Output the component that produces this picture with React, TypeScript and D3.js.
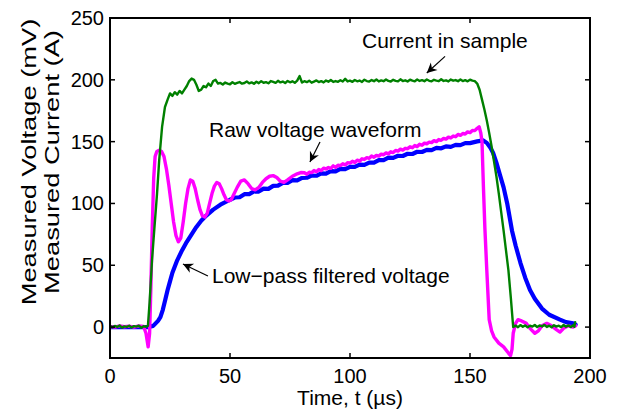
import React from "react";
import * as d3 from "d3";

// ---- data (time in µs, value in mV / A) ----
const currentT = [0, 1, 2, 3, 4, 5, 6, 7, 8, 9, 10, 11, 12, 13, 14, 15, 15.8, 16.5, 17.5, 18.5, 19.6, 20.5, 21.7, 22.9, 24, 25, 26, 27, 28, 29, 30, 31, 32, 33, 34, 35, 36, 37, 38, 39, 40, 41, 42, 43, 44, 45, 46, 47, 48, 49, 50, 51, 52, 53, 54, 55, 56, 57, 58, 59, 60, 61, 62, 63, 64, 65, 66, 67, 68, 69, 70, 71, 72, 73, 74, 75, 76, 77, 78, 79, 80, 81, 82, 83, 84, 85, 86, 87, 88, 89, 90, 91, 92, 93, 94, 95, 96, 97, 98, 99, 100, 101, 102, 103, 104, 105, 106, 107, 108, 109, 110, 111, 112, 113, 114, 115, 116, 117, 118, 119, 120, 121, 122, 123, 124, 125, 126, 127, 128, 129, 130, 131, 132, 133, 134, 135, 136, 137, 138, 139, 140, 141, 142, 143, 144, 145, 146, 147, 148, 149, 150, 151, 152, 153, 154, 155, 156, 157, 158, 159, 160, 161, 162, 163, 164, 165, 166, 167, 168, 169, 170, 171, 172, 173, 174, 175, 176, 177, 178, 179, 180, 181, 182, 183, 184, 185, 186, 187, 188, 189, 190, 191, 192, 193, 193.5, 193.8];
const currentV = [1, -0.2, 0.9, 0.1, 1.3, -0.4, 0.6, 0.2, 1.1, -0.3, 0.8, 0.4, 1.2, -0.5, 0.7, 0.3, 1, 20, 54, 80, 108, 135, 162, 178, 184, 189, 187, 190, 188, 191, 189, 192, 195, 199, 201, 200, 196, 191, 192, 195, 194, 197, 195, 199, 200, 197, 197.5, 196.2, 197.8, 197.0, 196.4, 198.0, 196.8, 197.6, 198.2, 196.9, 197.4, 198.6, 197.1, 197.9, 196.8, 198.4, 197.3, 198.9, 197.6, 198.1, 197.2, 199.0, 198.3, 197.5, 199.2, 197.9, 198.6, 197.4, 199.1, 198.0, 198.8, 197.6, 199.4, 203.0, 197.8, 198.9, 198.1, 199.3, 197.7, 198.6, 199.5, 198.2, 198.9, 197.9, 199.4, 198.5, 199.8, 198.3, 199.0, 198.4, 199.7, 198.6, 200.8, 198.7, 199.3, 198.4, 199.9, 198.8, 199.4, 198.3, 200.1, 199.0, 198.6, 199.8, 198.9, 200.2, 198.7, 199.5, 198.9, 200.3, 199.1, 198.6, 200.0, 199.2, 198.8, 200.4, 199.0, 199.6, 198.7, 200.1, 199.3, 198.8, 200.2, 199.1, 199.7, 198.9, 200.3, 199.2, 198.8, 200.0, 199.4, 198.9, 200.5, 199.1, 199.6, 198.7, 200.2, 199.3, 199.8, 198.9, 200.3, 199.0, 199.7, 198.8, 200.1, 199.3, 198.9, 197, 192, 184, 176, 167, 157, 146, 134, 122, 108, 93, 78, 62, 46, 24, 0, 1.2, -0.1, 1.6, 0.3, 1.4, -0.2, 1.1, 0.4, 1.7, 0.0, 1.3, 0.5, 1.8, 0.1, 1.2, -0.2, 1.5, 0.4, 1.1, 0.0, 1.7, 0.3, 1.4, 0.1, 1.6, 0.2, 4];

const rawT = [0, 2, 4, 6, 8, 10, 12, 14, 15, 15.9, 16.5, 17, 17.6, 18.2, 18.8, 19.5, 20.5, 21.5, 22.5, 23.5, 24.5, 25.5, 26.5, 27.5, 28.5, 29.5, 30.5, 31.5, 32.5, 33.5, 34.5, 35.5, 36.5, 37.5, 38.5, 39.5, 40.5, 41.5, 42.5, 43.5, 44.5, 45.5, 46.5, 47.5, 48.5, 49.5, 50.5, 51.5, 53, 54.5, 56, 57.5, 59, 60.5, 62, 63.5, 65, 66.5, 68, 69.5, 71, 72.5, 74, 76, 78, 79.5, 81, 82, 83, 84, 85, 86, 87, 88, 89, 90, 91, 92, 93, 94, 95, 96, 97, 98, 99, 100, 101, 102, 103, 104, 105, 106, 107, 108, 109, 110, 111, 112, 113, 114, 115, 116, 117, 118, 119, 120, 121, 122, 123, 124, 125, 126, 127, 128, 129, 130, 131, 132, 133, 134, 135, 136, 137, 138, 139, 140, 141, 142, 143, 144, 145, 146, 147, 148, 149, 150, 151, 152, 153, 153.8, 154.5, 155, 155.6, 156.2, 157, 158, 159, 160, 162, 164, 166, 166.9, 167.5, 168, 169, 170, 171.5, 173.5, 175, 177, 178.5, 180, 182, 184, 186, 187.5, 189, 191, 193, 194];
const rawV = [0.5, 0, 1, 0.3, 0.8, 0, 1, 0.5, -5, -16, -5, 30, 80, 120, 138, 142, 143, 142, 138, 128, 115, 100, 85, 74, 69, 72, 85, 100, 112, 119, 118, 112, 103, 95, 90, 89, 92, 100, 108, 114, 117, 116, 112, 107, 103, 102, 103, 107, 113, 118, 119, 116, 112, 111, 113, 117, 120, 122, 122.5, 121, 118, 117, 119, 122, 124, 125, 124.8, 123.6, 125.2, 124.9, 126.6, 125.7, 127.4, 126.6, 128.6, 127.9, 129.1, 128.4, 130.4, 129.2, 130.9, 130.6, 132.1, 131.2, 133.0, 132.6, 134.1, 133.2, 135.0, 134.2, 136.1, 135.6, 137.0, 136.5, 138.4, 137.4, 138.9, 138.3, 139.9, 139.4, 140.9, 140.1, 141.8, 141.2, 142.9, 142.3, 143.9, 143.2, 144.6, 144.3, 145.8, 145.1, 146.8, 146.0, 147.9, 147.1, 148.8, 148.3, 149.6, 149.2, 150.8, 150.0, 151.7, 151.1, 152.6, 152.0, 153.6, 153.0, 154.5, 154.0, 155.8, 155.1, 156.6, 156.2, 157.9, 157.3, 159.0, 158.9, 160.8, 162, 157, 150, 113, 80, 46, 6, -3, -8, -13, -16, -21, -23, -18, -5, 3, 6, 5, 3, -1, -5, -3, 1, 3, 1, -2, -4, -1, 1, 0, 1];

const lowT = [0, 4, 8, 12, 16, 17, 18, 19, 20, 21, 22, 23, 24, 25, 26, 27, 28, 29, 30, 32, 34, 36, 38, 40, 43, 46, 50, 52, 54, 56, 58, 60, 62, 64, 66, 68, 70, 72, 74, 76, 78, 80, 82, 84, 86, 88, 90, 92, 94, 96, 98, 100, 102, 104, 106, 108, 110, 112, 114, 116, 118, 120, 122, 124, 126, 128, 130, 132, 134, 136, 138, 140, 142, 144, 146, 148, 150, 153, 155.5, 157, 158.5, 159.6, 161, 162.5, 164, 165.5, 167.5, 169, 171, 173, 175, 177, 180, 183, 187.5, 190, 193, 194];
const lowV = [0, 0, 0, 0, 0, 0.5, 1, 3, 5, 8, 14, 22, 30, 37, 44, 49, 54, 58, 62, 69, 75, 81, 86, 90, 95, 99, 103, 104.8, 105, 107.5, 107.6, 109.8, 109.6, 112, 111.8, 114.2, 114.4, 116.6, 116.6, 118.8, 118.6, 120.6, 120.8, 122.6, 122.4, 124.4, 124.2, 126.2, 126, 128, 127.8, 129.6, 129.6, 131.4, 131.2, 133, 133, 135, 135, 137, 136.8, 138.6, 138.4, 140.2, 140, 141.8, 141.6, 143.4, 143.2, 145, 144.6, 146.2, 145.8, 147.4, 147.2, 148.8, 148.8, 150.2, 151, 149, 145, 141, 133, 123, 113, 100, 78, 66, 52, 40, 30, 23, 15, 10, 6, 4, 3, 2];

const xTicks = [0, 50, 100, 150, 200];
const yTicks = [0, 50, 100, 150, 200, 250];

const annotations = [
  { text: "Current in sample", tx: 105, ty: 225.7, from: [139.6, 219], to: [132, 205.5] },
  { text: "Raw voltage waveform", tx: 41.25, ty: 153.7, from: [87.5, 149.7], to: [83.3, 133.5] },
  { text: "Low\u2212pass filtered voltage", tx: 42.5, ty: 35.6, from: [40.8, 41.3], to: [30.4, 51] },
];

const W = 618;
const H = 412;
const L = 110, R = 590, T = 18, B = 358;
const FONT = "'Liberation Sans', Arial, Helvetica, sans-serif";

export default function App() {
  const x = d3.scaleLinear().domain([0, 200]).range([L, R]);
  const y = d3.scaleLinear().domain([-25, 250]).range([B, T]);
  const mk = (ts: number[], vs: number[]) =>
    d3.line<number>().x((_, i) => x(ts[i])).y((_, i) => y(vs[i]))(ts) || "";

  const arrowHead = (fx: number, fy: number, tx: number, ty: number) => {
    const ang = Math.atan2(ty - fy, tx - fx);
    const len = 10, wid = 5, back = 7;
    const ca = Math.cos(ang), sa = Math.sin(ang);
    const p = (a: number, b: number) => [tx - a * ca + b * -sa, ty - a * sa + b * ca];
    const pts = [[tx, ty], p(len, wid), p(back, 0), p(len, -wid)];
    return pts.map((q) => q.join(",")).join(" ");
  };

  return (
    <svg width={W} height={H} style={{ position: "absolute", left: 0, top: 0, background: "#fff" }} fontFamily={FONT}>
      <rect x={0} y={0} width={W} height={H} fill="#fff" />
      <defs>
        <clipPath id="plotclip">
          <rect x={L} y={T} width={R - L} height={B - T} />
        </clipPath>
      </defs>
      <g clipPath="url(#plotclip)" fill="none" strokeLinejoin="round" strokeLinecap="round">
        <path d={mk(lowT, lowV)} stroke="#0000ff" strokeWidth={4.2} />
        <path d={mk(rawT, rawV)} stroke="#ff00ff" strokeWidth={3.4} />
        <path d={mk(currentT, currentV)} stroke="#008000" strokeWidth={2.4} />
      </g>
      {/* axes box */}
      <rect x={L} y={T} width={R - L} height={B - T} fill="none" stroke="#000" strokeWidth={2} />
      {xTicks.map((t) => (
        <g key={"x" + t}>
          <line x1={x(t)} x2={x(t)} y1={B} y2={B - 5} stroke="#000" strokeWidth={1.5} />
          <line x1={x(t)} x2={x(t)} y1={T} y2={T + 5} stroke="#000" strokeWidth={1.5} />
          <text x={x(t)} y={383} textAnchor="middle" fontSize={20}>{t}</text>
        </g>
      ))}
      {yTicks.map((v) => (
        <g key={"y" + v}>
          <line x1={L} x2={L + 5} y1={y(v)} y2={y(v)} stroke="#000" strokeWidth={1.5} />
          <line x1={R} x2={R - 5} y1={y(v)} y2={y(v)} stroke="#000" strokeWidth={1.5} />
          <text x={104} y={y(v)} dy="0.35em" textAnchor="end" fontSize={20}>{v}</text>
        </g>
      ))}
      <text x={350} y={405} textAnchor="middle" fontSize={21}>Time, t (µs)</text>
      <g transform="translate(36,162) rotate(-90) scale(1.3,1)">
        <text x={0} y={0} textAnchor="middle" fontSize={21}>Measured Voltage (mV)</text>
      </g>
      <g transform="translate(59,162) rotate(-90) scale(1.3,1)">
        <text x={0} y={0} textAnchor="middle" fontSize={21}>Measured Current (A)</text>
      </g>
      {annotations.map((a, i) => {
        const fx = x(a.from[0]), fy = y(a.from[1]), tx = x(a.to[0]), ty = y(a.to[1]);
        return (
          <g key={"a" + i}>
            <text x={x(a.tx)} y={y(a.ty)} fontSize={21}>{a.text}</text>
            <line x1={fx} y1={fy} x2={tx} y2={ty} stroke="#000" strokeWidth={1.2} />
            <polygon points={arrowHead(fx, fy, tx, ty)} fill="#000" />
          </g>
        );
      })}
    </svg>
  );
}
